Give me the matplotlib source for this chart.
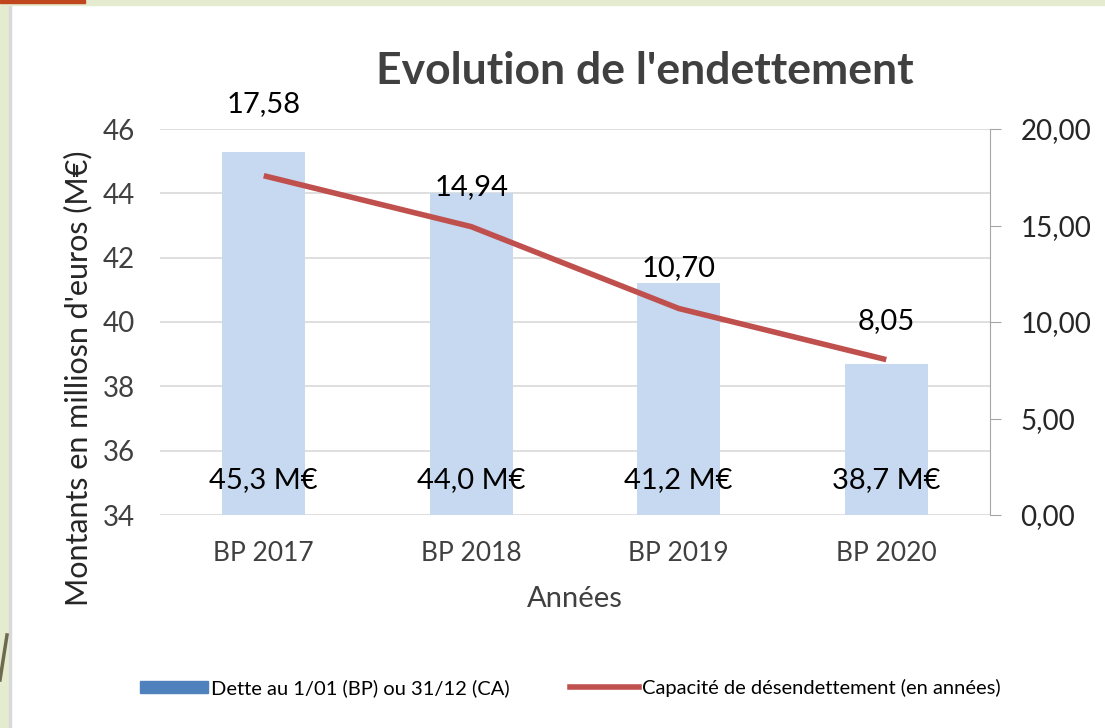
import matplotlib
matplotlib.use("Agg")
import matplotlib.pyplot as plt
from matplotlib.patches import Rectangle, Patch
from matplotlib.lines import Line2D
import numpy as np

categories = ["BP 2017", "BP 2018", "BP 2019", "BP 2020"]
dette = [45.3, 44.0, 41.2, 38.7]
dette_labels = ["45,3 M€", "44,0 M€", "41,2 M€", "38,7 M€"]
capacite = [17.58, 14.94, 10.70, 8.05]
capacite_labels = ["17,58", "14,94", "10,70", "8,05"]
left_ticks = [34, 36, 38, 40, 42, 44, 46]
right_ticks = [0, 5, 10, 15, 20]
right_tick_labels = ["0,00", "5,00", "10,00", "15,00", "20,00"]

plt.rcParams['font.family'] = ['Lato', 'DejaVu Sans']

fig = plt.figure(figsize=(11.05, 7.28), dpi=100)
fig.patch.set_facecolor("white")

# screenshot frame
fig.add_artist(Rectangle((0, 0), 9/1105, 1, transform=fig.transFigure, color="#E4EBCF", zorder=0))
fig.add_artist(Rectangle((9/1105, 0), 2/1105, 1, transform=fig.transFigure, color="#D9D9D9", zorder=0))
fig.add_artist(Rectangle((0, 1-5/728), 1, 5/728, transform=fig.transFigure, color="#E4EBCF", zorder=0))
fig.add_artist(Rectangle((0, 1-3/728), 85/1105, 3/728, transform=fig.transFigure, color="#C0461E", zorder=1))
fig.add_artist(Line2D([0, 7/1105], [1-680/728, 1-635/728], transform=fig.transFigure, color="#6E6A4E", lw=2.5))

ax = fig.add_axes([160/1105, 1-515/728, 830/1105, 386/728])
x = np.arange(len(categories))
ax.bar(x, dette, width=0.4, color="#C6D9F0", zorder=2)
ax.set_ylim(34, 46)
ax.set_xlim(-0.5, 3.5)
ax.set_yticks(left_ticks)
ax.set_yticklabels([str(t) for t in left_ticks], fontsize=20, color="#404040")
ax.grid(axis="y", color="#D9D9D9", lw=1.2, zorder=0)
ax.set_axisbelow(True)
ax.set_xticks(x)
ax.set_xticklabels(categories, fontsize=19, color="#404040")
ax.tick_params(axis="y", length=0, pad=18)
ax.tick_params(axis="x", length=0, pad=19)
for s in ax.spines.values():
    s.set_visible(False)
for xi, lab in zip(x, dette_labels):
    ax.text(xi, 35.1, lab, ha="center", va="center", fontsize=21, color="black", zorder=5)
ax.set_ylabel("Montants en milliosn d'euros (M€)", fontsize=22, color="#262626")
ax.yaxis.set_label_coords(-0.082, 0.355)
ax.set_xlabel("Années", fontsize=21, color="#404040", labelpad=14)

ax2 = ax.twinx()
ax2.plot(x, capacite, color="#C0504D", lw=4, solid_capstyle="butt", zorder=4)
ax2.set_ylim(0, 20)
ax2.set_yticks(right_ticks)
ax2.set_yticklabels(right_tick_labels, fontsize=20, color="#262626")
ax2.tick_params(axis="y", length=8, color="#A6A6A6", pad=14)
for s in ["left", "top", "bottom"]:
    ax2.spines[s].set_visible(False)
ax2.spines["right"].set_color("#A6A6A6")
offsets = [72, 40, 40, 39]
for xi, v, lab, off in zip(x, capacite, capacite_labels, offsets):
    ax2.annotate(lab, (xi, v), xytext=(0, off * 0.72), textcoords="offset points",
                 ha="center", va="center", fontsize=21, color="black")

fig.text(645/1105, 1-71/728, "Evolution de l'endettement", ha="center", va="center",
         fontsize=32, fontweight="bold", color="#404040")

handles = [Patch(color="#4F81BD"), Line2D([], [], color="#C0504D", lw=4)]
leg = fig.legend(handles, ["Dette au 1/01 (BP) ou 31/12 (CA)", "Capacité de désendettement (en années)"],
                 loc="center", bbox_to_anchor=(570/1105, 1-688/728), ncol=2, frameon=False,
                 fontsize=14.5, handlelength=3.4, handleheight=0.6, columnspacing=3.0, handletextpad=0.15)

fig.savefig("out.png", dpi=100)
